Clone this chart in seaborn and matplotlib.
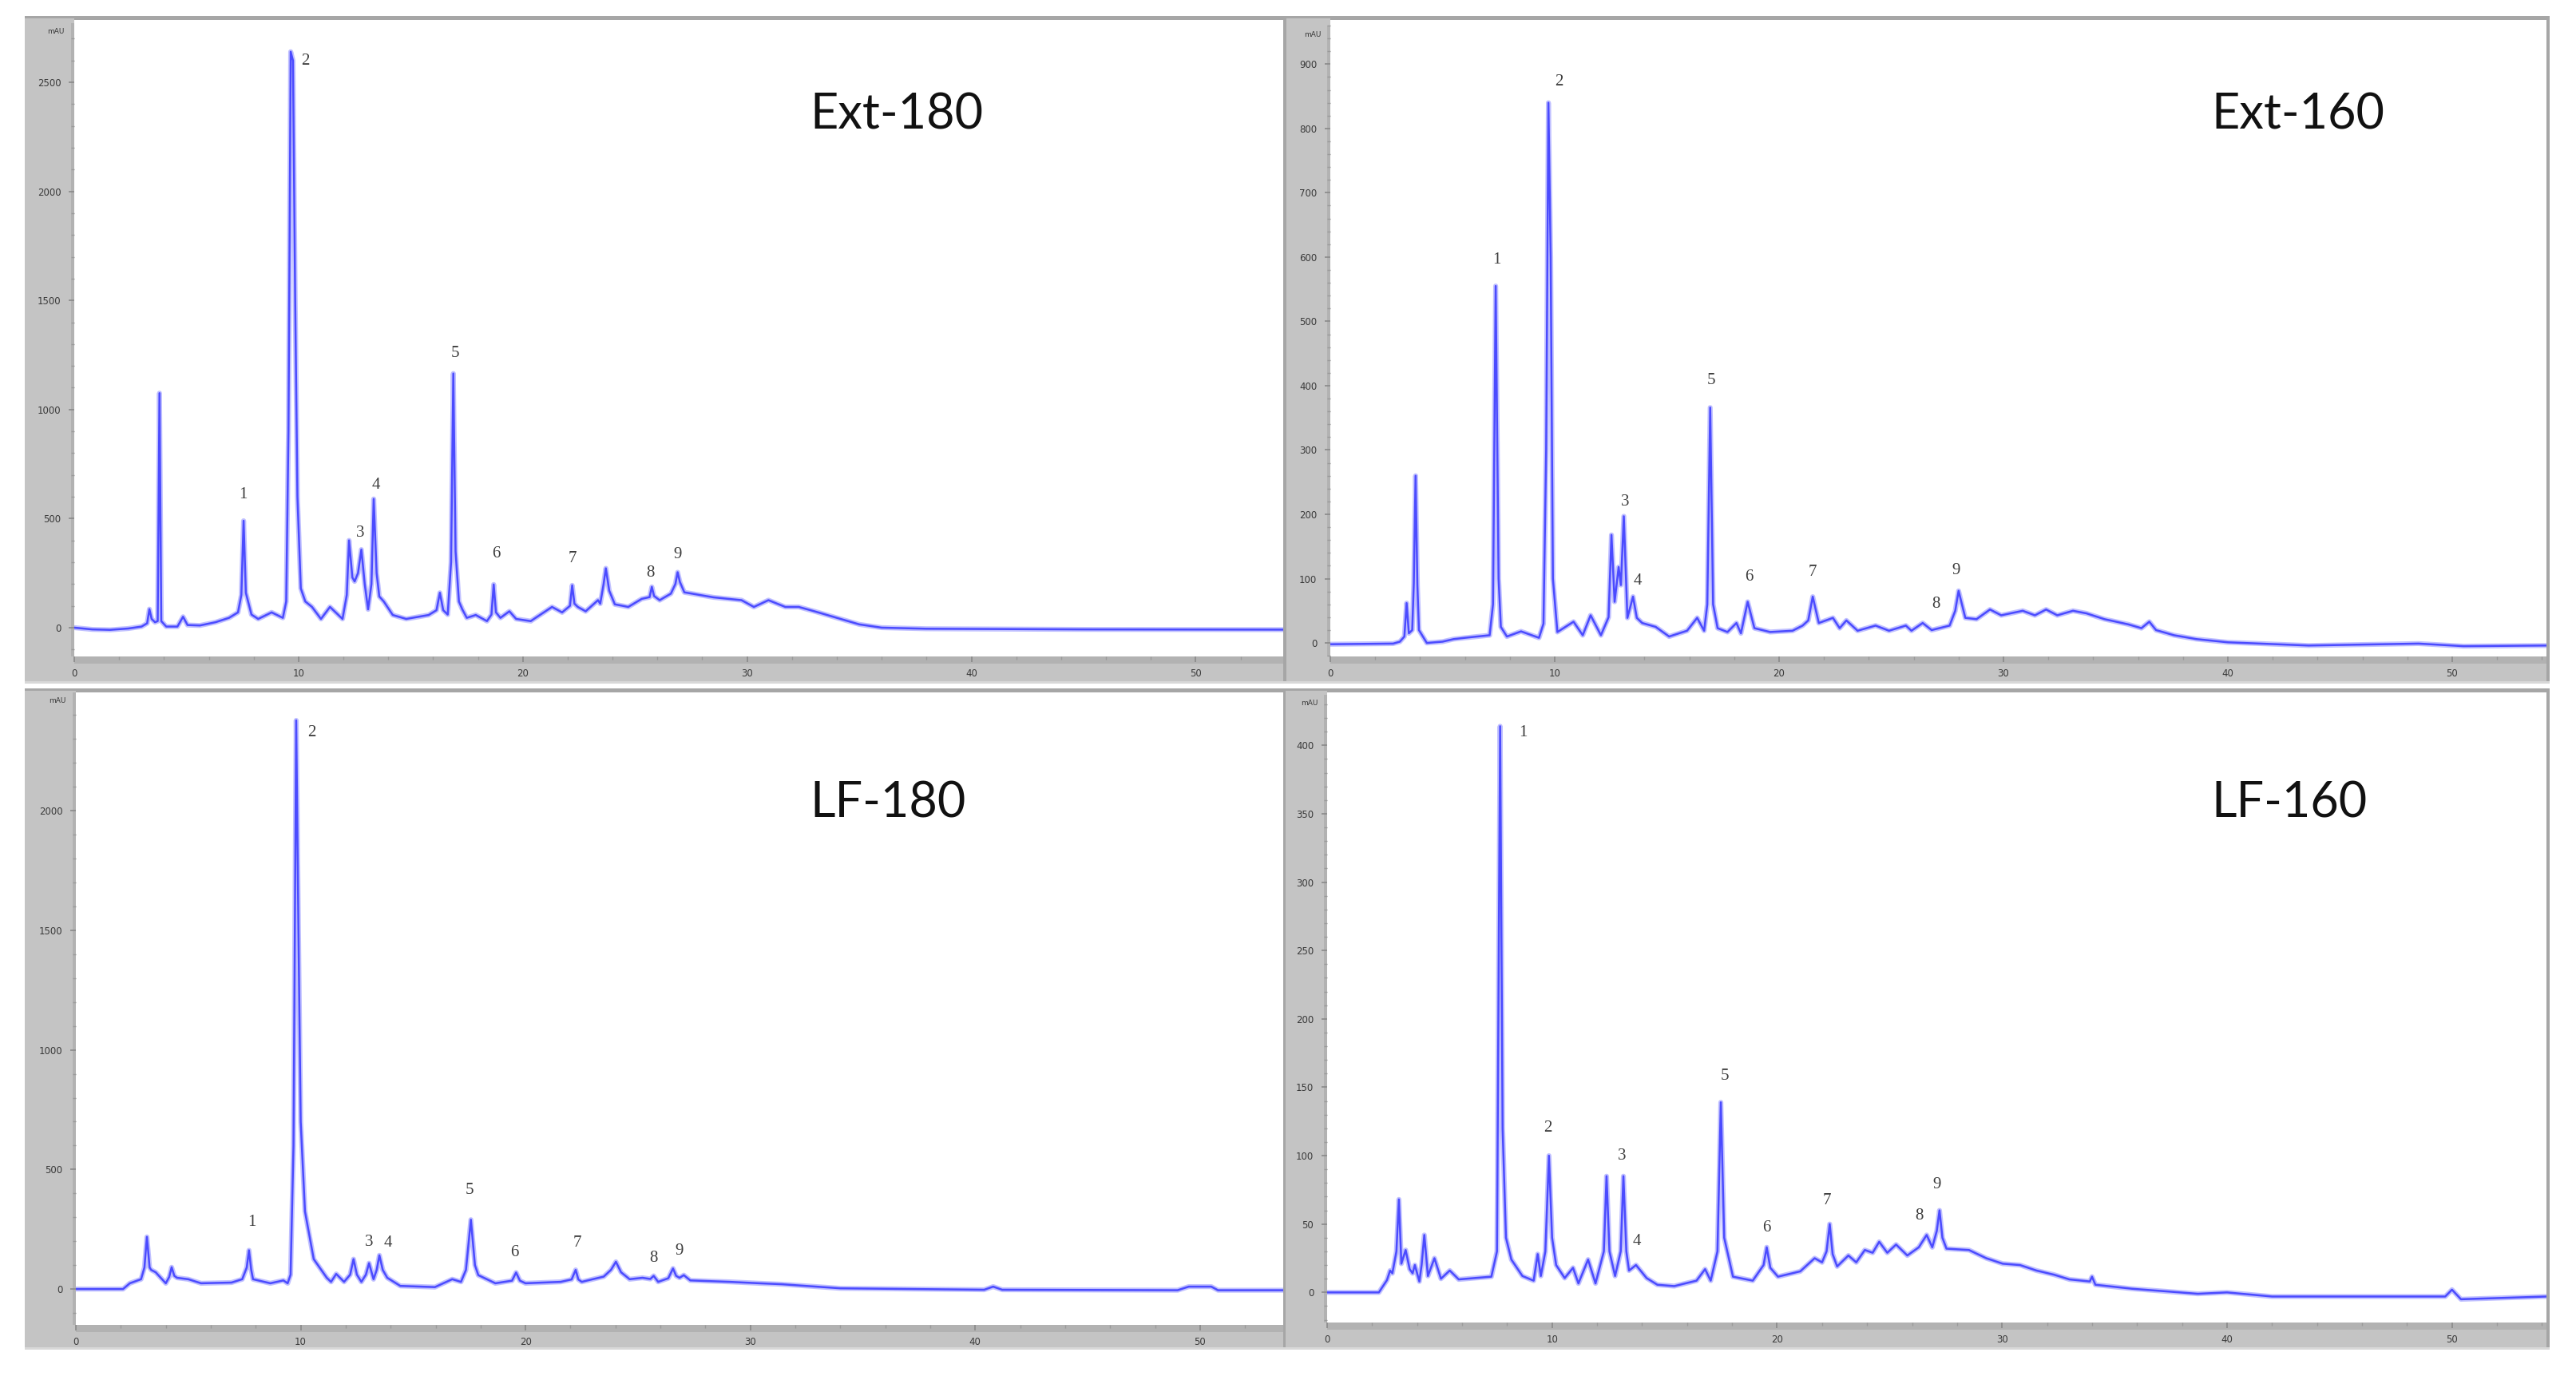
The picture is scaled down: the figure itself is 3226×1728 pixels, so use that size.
import numpy as np
import pandas as pd
import matplotlib
matplotlib.use("Agg")
import matplotlib.pyplot as plt
from matplotlib.patches import Rectangle
from matplotlib.ticker import MultipleLocator
import seaborn as sns

# ---------------- data (retention time [min], absorbance [mAU]) ----------------
ext180_t = [0, 0.8, 1.6, 2.4, 3.0, 3.25, 3.35, 3.45, 3.6, 3.72, 3.8, 3.88, 4.1, 4.6, 4.85, 5.05, 5.6, 6.3, 6.9, 7.3,
            7.45, 7.55, 7.65, 7.9, 8.2, 8.8, 9.3, 9.45, 9.55, 9.65, 9.75, 9.85, 9.95, 10.1, 10.3, 10.6, 11.0, 11.4,
            11.96, 12.15, 12.25, 12.4, 12.5, 12.65, 12.8, 12.95, 13.1, 13.25, 13.35, 13.48, 13.6, 13.8, 14.2, 14.8,
            15.8, 16.15, 16.3, 16.45, 16.65, 16.8, 16.9, 17.0, 17.15, 17.3, 17.5, 17.9, 18.4, 18.6, 18.7, 18.8, 19.0,
            19.4, 19.7, 20.35, 21.3, 21.75, 22.1, 22.2, 22.3, 22.45, 22.8, 23.35, 23.45, 23.6, 23.7, 23.85, 24.1,
            24.7, 25.3, 25.65, 25.75, 25.85, 26.1, 26.6, 26.8, 26.9, 27.0, 27.2, 28.5, 29.75, 30.3, 30.95, 31.7,
            32.3, 33.0, 34.0, 35.0, 36.0, 38.0, 45.0, 53.9]
ext180_v = [0, -8, -10, -4, 5, 20, 85, 40, 25, 30, 1075, 30, 5, 5, 50, 12, 10, 25, 45, 70,
            150, 490, 160, 60, 40, 70, 45, 120, 900, 2640, 2600, 1500, 600, 180, 120, 95, 40, 95,
            40, 150, 400, 230, 212, 250, 358, 200, 84, 200, 590, 250, 143, 120, 58, 40,
            58, 80, 160, 80, 60, 300, 1165, 350, 120, 84, 45, 58, 30, 60, 198, 70, 45,
            75, 40, 30, 95, 70, 100, 194, 110, 95, 75, 126, 110, 200, 272, 170, 107,
            95, 132, 140, 187, 145, 126, 156, 200, 254, 210, 162, 139, 126, 95, 126, 95,
            95, 75, 45, 15, 0, -5, -8, -9]

ext160_t = [0, 2.8, 3.1, 3.3, 3.4, 3.5, 3.65, 3.72, 3.8, 3.88, 3.95, 4.3, 5.0, 5.5, 6.0, 6.55, 7.1, 7.25, 7.37,
            7.5, 7.6, 7.87, 8.5, 9.3, 9.5, 9.62, 9.72, 9.82, 9.92, 10.12, 10.84, 11.25, 11.6, 12.06, 12.4, 12.53,
            12.67, 12.85, 12.95, 13.08, 13.24, 13.49, 13.66, 13.9, 14.5, 15.1, 15.9, 16.35, 16.66, 16.8, 16.93,
            17.06, 17.26, 17.7, 18.1, 18.3, 18.6, 18.9, 19.6, 20.6, 21.05, 21.3, 21.5, 21.77, 22.4, 22.7, 23.0,
            23.5, 24.3, 24.9, 25.65, 25.9, 26.4, 26.8, 27.6, 27.85, 28.0, 28.3, 28.8, 29.4, 29.9, 30.86, 31.4,
            31.9, 32.4, 33.1, 33.7, 34.5, 35.55, 36.15, 36.5, 36.8, 37.6, 38.6, 40.0, 43.6, 48.5, 50.5, 54.2]
ext160_v = [-2, -1, 2, 10, 62, 15, 20, 92, 260, 90, 20, 0, 2, 6, 8, 10, 12, 60, 555,
            100, 25, 10, 18, 8, 30, 300, 840, 600, 100, 17, 33, 12, 43, 12, 40, 168,
            64, 118, 90, 197, 39, 72, 39, 31, 25, 10, 19, 39, 19, 60, 366,
            60, 23, 17, 31, 15, 64, 23, 17, 19, 27, 35, 72, 31, 39, 23, 35,
            19, 27, 19, 27, 19, 31, 20, 27, 50, 81, 39, 37, 52, 43, 50, 43,
            52, 43, 50, 46, 37, 29, 23, 33, 20, 12, 6, 1, -4, -1, -5, -4]

lf180_t = [0, 2.1, 2.4, 2.9, 3.05, 3.16, 3.28, 3.35, 3.55, 4.0, 4.15, 4.26, 4.38, 4.5, 5.0, 5.57, 6.92, 7.4, 7.6,
           7.7, 7.8, 7.88, 8.65, 9.23, 9.42, 9.55, 9.68, 9.8, 9.9, 10.0, 10.19, 10.58, 11.16, 11.35, 11.58,
           11.93, 12.2, 12.35, 12.5, 12.7, 12.9, 13.04, 13.24, 13.38, 13.5, 13.65, 13.85, 14.43, 15.97, 16.74,
           17.13, 17.35, 17.57, 17.75, 17.9, 18.66, 19.4, 19.58, 19.75, 20.0, 21.56, 22.05, 22.23, 22.35, 22.5,
           23.48, 23.8, 24.02, 24.25, 24.63, 25.2, 25.55, 25.7, 25.9, 26.35, 26.56, 26.7, 26.85, 27.04, 27.33,
           29.07, 30.4, 31.4, 34.0, 40.4, 40.8, 41.2, 49.0, 49.5, 50.5, 50.8, 53.7]
lf180_v = [0, 0, 24, 41, 90, 218, 90, 80, 70, 24, 50, 91, 55, 47, 41, 24, 27, 41, 90,
           162, 80, 41, 24, 36, 24, 60, 600, 2378, 1500, 700, 325, 125, 47, 30, 63,
           30, 60, 125, 60, 30, 60, 108, 41, 80, 141, 80, 47, 13, 8, 41,
           30, 80, 290, 100, 58, 24, 35, 69, 35, 24, 30, 40, 80, 40, 30,
           52, 80, 114, 70, 41, 47, 42, 55, 30, 45, 86, 55, 47, 58, 36,
           30, 24, 20, 3, -3, 10, -3, -5, 10, 10, -5, -5]

lf160_t = [0, 2.3, 2.66, 2.8, 2.9, 3.08, 3.19, 3.3, 3.49, 3.67, 3.8, 3.9, 4.1, 4.2, 4.32, 4.48, 4.77, 5.06, 5.45,
           5.85, 6.56, 7.3, 7.55, 7.69, 7.8, 7.95, 8.19, 8.68, 9.18, 9.36, 9.5, 9.7, 9.86, 10.0, 10.18, 10.56,
           10.93, 11.17, 11.6, 11.93, 12.3, 12.42, 12.55, 12.8, 13.05, 13.17, 13.3, 13.42, 13.73, 14.2, 14.68,
           15.43, 16.42, 16.8, 17.05, 17.35, 17.5, 17.65, 18.04, 18.92, 19.4, 19.54, 19.7, 20.04, 21.03, 21.67,
           22.0, 22.2, 22.34, 22.47, 22.67, 23.17, 23.52, 23.9, 24.25, 24.54, 24.9, 25.29, 25.79, 26.3, 26.65,
           26.9, 27.1, 27.22, 27.35, 27.53, 28.53, 29.3, 30.03, 30.8, 31.53, 32.3, 33.0, 33.9, 34.0, 34.15,
           35.77, 38.7, 40.0, 42.0, 49.7, 50.0, 50.4, 54.2]
lf160_v = [0, 0, 9, 16, 14, 30, 68, 21, 31, 17, 14, 20, 8, 20, 42, 12, 25, 10, 16,
           9.5, 10.5, 11.5, 30, 414, 120, 40, 24, 12, 8.6, 28, 12, 30, 100, 40, 20, 10.5,
           18, 6.6, 24, 6.6, 30, 85, 30, 12, 30, 85, 30, 16, 20, 10.5, 5.6,
           4.6, 8.6, 17, 8.6, 30, 139, 40, 11.5, 8.6, 20, 33, 18, 11.5, 15.4, 25,
           22, 30, 50, 28, 19, 27, 22, 31, 29, 37, 29, 35, 27, 33, 42,
           33, 45, 60, 40, 32, 31, 25, 21, 20, 16, 13, 9.5, 8, 11.5, 5.6,
           2.7, -1, 0, -3, -3, 2, -5, -3]

sample_names = ["Ext-180", "Ext-160", "LF-180", "LF-160"]
peak_ids = ["1", "2", "3", "4", "5", "6", "7", "8", "9"]
# peak-label anchor (time, mAU) for each sample
ext180_lab_t = [7.53, 10.3, 12.75, 13.45, 16.97, 18.8, 22.2, 25.7, 26.9]
ext180_lab_v = [610, 2597, 435, 655, 1258, 340, 315, 249, 333]
ext160_lab_t = [7.41, 10.2, 13.15, 13.7, 16.97, 18.65, 21.5, 27.0, 27.9]
ext160_lab_v = [596, 872, 219, 96, 408, 103, 110, 60, 112]
lf180_lab_t = [7.84, 10.5, 13.04, 13.9, 17.5, 19.5, 22.3, 25.7, 26.85]
lf180_lab_v = [280, 2326, 197, 191, 414, 153, 191, 130, 158]
lf160_lab_t = [8.72, 9.8, 13.1, 13.75, 17.67, 19.54, 22.2, 26.33, 27.1]
lf160_lab_v = [409, 120, 100, 37, 158, 47, 67, 56, 79]

# ---------------- layout (pixels of the 3226x1728 canvas) ----------------
W, H = 3226, 1728
sns.set_theme(style="white")
plt.rcParams["font.family"] = ["DejaVu Sans"]

fig = plt.figure(figsize=(W / 100, H / 100), dpi=100)
fig.patch.set_facecolor("white")


def fig_rect(x0, y0, x1, y1, color, z=-2):
    fig.patches.append(Rectangle((x0 / W, 1 - y1 / H), (x1 - x0) / W, (y1 - y0) / H,
                                 transform=fig.transFigure, facecolor=color,
                                 edgecolor="none", zorder=z))


panels = [
    dict(t=ext180_t, v=ext180_v, lt=ext180_lab_t, lv=ext180_lab_v, area=(93, 29, 1607, 822),
         frame=(31, 20, 856), xlim=(0, 53.9), ylim=(-132, 2771), ystep=500, yminor=100, ymax=2500,
         title=(1014, 144)),
    dict(t=ext160_t, v=ext160_v, lt=ext160_lab_t, lv=ext160_lab_v, area=(1666, 32, 3189, 822),
         frame=(1611, 20, 856), xlim=(0, 54.2), ylim=(-21, 960), ystep=100, yminor=20, ymax=900,
         title=(2769, 144)),
    dict(t=lf180_t, v=lf180_v, lt=lf180_lab_t, lv=lf180_lab_v, area=(95, 867, 1607, 1659),
         frame=(31, 862, 1690), xlim=(0, 53.7), ylim=(-150, 2495), ystep=500, yminor=100, ymax=2000,
         title=(1014, 1006)),
    dict(t=lf160_t, v=lf160_v, lt=lf160_lab_t, lv=lf160_lab_v, area=(1662, 870, 3189, 1656),
         frame=(1610, 862, 1690), xlim=(0, 54.2), ylim=(-22, 437), ystep=50, yminor=10, ymax=400,
         title=(2769, 1006)),
]

strip_col = "#c4c4c4"
band_col = "#b2b2b2"
edge_col = "#a6a6a6"

for name, p in zip(sample_names, panels):
    x0, y0, x1, y1 = p["area"]
    fx0, fy0, fy1 = p["frame"]
    # grey frame: top border, y-axis strip, x-axis strip
    fig_rect(fx0, fy0, x1 + 4, fy0 + 5, edge_col)
    fig_rect(fx0, fy0 + 3, x0, fy1, strip_col)
    fig_rect(x0 - 4, y0, x0, y1, band_col)
    fig_rect(fx0, y1, x1 + 4, fy1, strip_col)
    fig_rect(x0, y1, x1, y1 + 9, band_col)
    fig_rect(x1, fy0, x1 + 4, fy1, edge_col)
    fig_rect(fx0, fy1 - 3, x1 + 4, fy1, "#d8d8d8")

    ax = fig.add_axes([x0 / W, 1 - y1 / H, (x1 - x0) / W, (y1 - y0) / H])
    ax.set_facecolor("white")
    df = pd.DataFrame({"time": p["t"], "mAU": p["v"]})
    sns.lineplot(data=df, x="time", y="mAU", ax=ax, color="#babaff", lw=4.5,
                 estimator=None, sort=False, alpha=0.9)
    sns.lineplot(data=df, x="time", y="mAU", ax=ax, color="#4b4bff", lw=1.8,
                 estimator=None, sort=False)
    ax.set_xlim(*p["xlim"])
    ax.set_ylim(*p["ylim"])
    ax.set_xlabel("")
    ax.set_ylabel("")
    for s in ax.spines.values():
        s.set_visible(False)
    ax.set_xticks(np.arange(0, 51, 10))
    ax.set_yticks(np.arange(0, p["ymax"] + 1, p["ystep"]))
    ax.xaxis.set_minor_locator(MultipleLocator(2))
    ax.yaxis.set_minor_locator(MultipleLocator(p["yminor"]))
    ax.tick_params(axis="both", which="major", direction="out", length=5, width=1.2,
                   color="#8a8a8a", labelsize=8.5, labelcolor="#3a3a3a", pad=7,
                   bottom=True, left=True)
    ax.tick_params(axis="both", which="minor", direction="out", length=3, width=1.0,
                   color="#9a9a9a", bottom=True, left=True)
    ax.tick_params(axis="x", which="major", pad=6)

    # peak numbers
    for lab, lt, lv in zip(peak_ids, p["lt"], p["lv"]):
        ax.text(lt, lv, lab, ha="center", va="center", fontsize=15,
                family="Liberation Serif", color="#3c3c3c")

    # y-axis unit
    fig.text((x0 - 12) / W, 1 - (y0 + 11) / H, "mAU", ha="right", va="center",
             fontsize=6.5, color="#3a3a3a")
    # sample name
    tx, ty = p["title"]
    fig.text(tx / W, 1 - ty / H, name, ha="left", va="center", fontsize=44,
             family="Lato", color="#111111")

fig.savefig("out.png", dpi=100, facecolor="white")
